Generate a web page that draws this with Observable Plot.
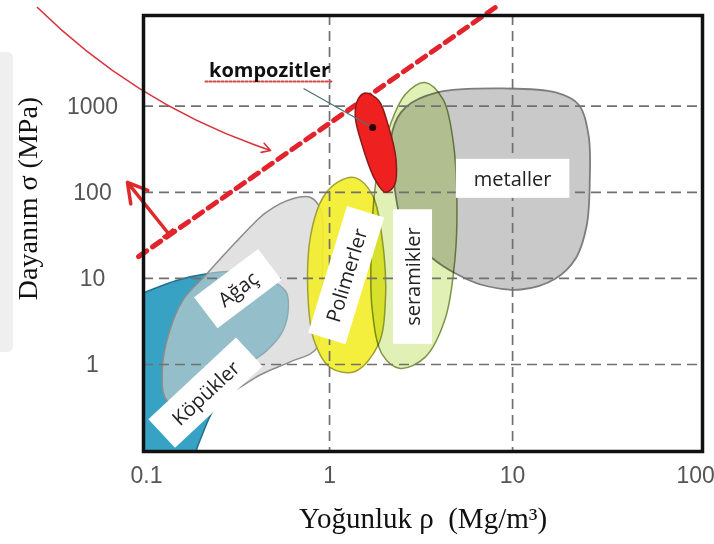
<!DOCTYPE html>
<html>
<head>
<meta charset="utf-8">
<script src="https://cdn.jsdelivr.net/npm/d3@7"></script>
<script src="https://cdn.jsdelivr.net/npm/@observablehq/plot@0.6"></script>
<style>
  body { margin: 0; background: #fff; }
  #chart { position: relative; width: 714px; height: 544px; }
  #chart .edge { position: absolute; left: 0; top: 52px; width: 13px; height: 300px; background: #efefef; border-radius: 0 6px 6px 0; }
  #chart svg { position: absolute; left: 0; top: 0; overflow: visible; }
</style>
</head>
<body>
<div id="chart"><div class="edge"></div></div>
<script>
// ---- axis ticks and grid ----
const xTicks = [0.1, 1, 10, 100];
const yTicks = [1, 10, 100, 1000];
const xGrid = [1, 10];
const yGrid = [1, 10, 100, 1000];

// ---- material envelopes (density ρ in Mg/m3, strength σ in MPa) ----
const foamRho   = [0.0502, 0.0569, 0.0975, 0.146, 0.217, 0.328, 0.466, 0.577, 0.591, 0.542, 0.449, 0.328, 0.272, 0.225, 0.192, 0.165, 0.0829];
const foamSigma = [0.23, 4.35, 6.86, 9.46, 11.4, 12.0, 9.71, 7.05, 3.81, 2.23, 1.42, 0.875, 0.512, 0.263, 0.118, 0.0528, 0.027];

const woodRho   = [0.128, 0.122, 0.132, 0.159, 0.212, 0.308, 0.449, 0.629, 0.788, 0.894, 0.916, 0.894, 0.839, 0.614, 0.422, 0.308, 0.225, 0.165];
const woodSigma = [0.392, 0.875, 2.23, 5.69, 11.1, 26.5, 58, 84, 87, 63, 16.6, 3.33, 1.49, 1.08, 0.765, 0.512, 0.372, 0.30];

const metalRho   = [2.21, 2.60, 3.89, 8.60, 17.2, 22.9, 26.0, 26.4, 25.4, 22.1, 17.2, 11.1, 6.68, 4.88, 3.66, 2.60, 2.24];
const metalSigma = [522, 966, 1443, 1606, 1443, 1047, 457, 137, 41.1, 17.0, 9.97, 7.43, 8.49, 11.4, 17.0, 36.0, 137];

const polymerRho   = [1.38, 1.71, 1.94, 2.02, 1.85, 1.38, 1.01, 0.82, 0.76, 0.79, 0.92, 1.12];
const polymerSigma = [148, 94, 28.3, 5.69, 1.71, 0.83, 0.92, 1.95, 7.43, 32.4, 87, 133];

const ceramicRho   = [3.32, 4.17, 4.72, 4.96, 4.84, 4.27, 3.32, 2.43, 1.94, 1.71, 1.69, 1.80, 2.15, 2.59];
const ceramicSigma = [1884, 1197, 410, 82.5, 16.6, 3.33, 1.21, 0.90, 1.31, 4.35, 21.7, 141, 613, 1368];

const compositeRho   = [1.57, 1.85, 2.09, 2.31, 2.26, 2.02, 1.78, 1.51, 1.38, 1.44];
const compositeSigma = [1420, 1170, 600, 235, 120, 100, 138, 350, 780, 1230];

// ---- guide line σ^(2/3)/ρ = const (end points) ----
const guideRho   = [0.0905, 8.2];
const guideSigma = [17.9, 14400];

// ---- annotations ----
const labelNames = ["Ağaç", "Köpükler", "Polimerler", "seramikler", "metaller"];
const labelRho   = [0.318, 0.212, 1.25, 2.88, 10.0];
const labelSigma = [7.43, 0.46, 10.8, 10.5, 141];
const labelAngle = [-37, -43, -73, -90, 0];

const compositeName  = "kompozitler";
const compositeLabel = {rho: 0.47, sigma: 2600};
const underlineRho   = [0.210, 1.05];
const underlineSigma = [1936, 1936];
const compositeDot   = {rho: 1.72, sigma: 566};
const leaderFrom     = {rho: 0.721, sigma: 1606};

const thinArrowFrom  = {rho: 0.02537, sigma: 14000};
const thinArrowTo    = {rho: 0.476, sigma: 306};
const thickArrowFrom = {rho: 0.1318, sigma: 33.2};
const thickArrowTo   = {rho: 0.0787, sigma: 130};
const tBarRho   = [0.123, 0.1413];
const tBarSigma = [29.5, 37.4];

const xTitle = "Yoğunluk ρ\u00a0\u00a0(Mg/m³)";
const yTitle = "Dayanım σ (MPa)";

// ---- build tables ----
const pts = (r, s) => r.map((v, i) => ({rho: v, sigma: s[i]}));
const foam = pts(foamRho, foamSigma);
const wood = pts(woodRho, woodSigma);
const metal = pts(metalRho, metalSigma);
const polymer = pts(polymerRho, polymerSigma);
const ceramic = pts(ceramicRho, ceramicSigma);
const composite = pts(compositeRho, compositeSigma);
const guide = pts(guideRho, guideSigma);
const underline = pts(underlineRho, underlineSigma);
const labels = labelNames.map((t, i) => ({text: t, rho: labelRho[i], sigma: labelSigma[i], angle: labelAngle[i]}));
const tBar = [{x1: tBarRho[0], y1: tBarSigma[0], x2: tBarRho[1], y2: tBarSigma[1]}];

const shape = (data, opts) => Plot.line(data, {x: "rho", y: "sigma", curve: "catmull-rom-closed", ...opts});

const chart = Plot.plot({
  width: 714,
  height: 544,
  marginLeft: 143,
  marginRight: 12,
  marginTop: 15,
  marginBottom: 93,
  style: {background: "transparent", overflow: "visible"},
  x: {type: "log", domain: [0.0963, 109], axis: null},
  y: {type: "log", domain: [0.0976, 11300], axis: null},
  marks: [
    shape(foam, {fill: "#37a2c4", stroke: "#23708a", strokeWidth: 1.5, clip: true}),
    shape(wood, {fill: "#cfcfcf", fillOpacity: 0.62, stroke: "#8c8c8c", strokeWidth: 1.5, clip: true}),
    shape(metal, {fill: "#c9c9c9", stroke: "#7d7d7d", strokeWidth: 1.8}),
    shape(polymer, {fill: "#f3ee2c", fillOpacity: 0.92, stroke: "#a0a03a", strokeWidth: 1.5}),
    shape(ceramic, {fill: "#dcefa8", fillOpacity: 0.85, stroke: "#7f9448", strokeWidth: 1.5, mixBlendMode: "multiply"}),
    Plot.ruleX(xGrid, {x: d => d, stroke: "#707070", strokeWidth: 1.7, strokeDasharray: "10,6"}),
    Plot.ruleY(yGrid, {y: d => d, stroke: "#707070", strokeWidth: 1.7, strokeDasharray: "10,6"}),
    Plot.line(guide, {x: "rho", y: "sigma", stroke: "#e3232b", strokeWidth: 5, strokeDasharray: "10,7"}),
    shape(composite, {fill: "#ee2020", stroke: "#8a1a1a", strokeWidth: 1.5}),
    Plot.link([0], {x1: () => leaderFrom.rho, y1: () => leaderFrom.sigma, x2: () => compositeDot.rho, y2: () => compositeDot.sigma, stroke: "#4f7378", strokeWidth: 1.3}),
    Plot.dot([compositeDot], {x: "rho", y: "sigma", r: 3.5, fill: "#2a0505"}),
    Plot.arrow([0], {x1: () => thinArrowFrom.rho, y1: () => thinArrowFrom.sigma, x2: () => thinArrowTo.rho, y2: () => thinArrowTo.sigma, bend: -13, stroke: "#d8323a", strokeWidth: 1.6, headLength: 9}),
    Plot.arrow([0], {x1: () => thickArrowFrom.rho, y1: () => thickArrowFrom.sigma, x2: () => thickArrowTo.rho, y2: () => thickArrowTo.sigma, stroke: "#df2a2a", strokeWidth: 3.5, headLength: 14}),
    Plot.link(tBar, {x1: "x1", y1: "y1", x2: "x2", y2: "y2", stroke: "#df2a2a", strokeWidth: 3.5}),
    Plot.text(labels, {x: "rho", y: "sigma", text: "text", rotate: "angle", fontFamily: "Open Sans", fontSize: 20, fill: "#222"}),
    Plot.line(underline, {x: "rho", y: "sigma", stroke: "#d04848", strokeWidth: 2, strokeDasharray: "2,2"}),
    Plot.text([compositeLabel], {x: "rho", y: "sigma", text: () => compositeName, fontFamily: "Open Sans", fontWeight: "bold", fontSize: 20, fill: "#111"}),
    Plot.frame({stroke: "#111", strokeWidth: 3.5}),
    Plot.text(xTicks, {x: d => d, text: d => String(d), frameAnchor: "bottom", lineAnchor: "middle", dy: 24, fontFamily: "Liberation Sans", fontSize: 23, fill: "#555"}),
    Plot.text(yTicks, {y: d => d, text: d => String(d), frameAnchor: "left", dx: -51, textAnchor: "middle", fontFamily: "Liberation Sans", fontSize: 23, fill: "#555"}),
    Plot.text([xTitle], {text: d => d, frameAnchor: "bottom", lineAnchor: "middle", textAnchor: "middle", dy: 67, fontFamily: "Liberation Serif", fontSize: 29, fill: "#111"}),
    Plot.text([yTitle], {text: d => d, frameAnchor: "left", lineAnchor: "middle", textAnchor: "middle", dx: -115, dy: -35, rotate: -90, fontFamily: "Liberation Serif", fontSize: 28, fill: "#111"})
  ]
});

document.getElementById("chart").appendChild(chart);

// white boxes behind the material labels
const padAlong = 18, padAcross = 6;
chart.querySelectorAll("text").forEach(t => {
  if (!labelNames.includes(t.textContent)) return;
  const bb = t.getBBox();
  const r = document.createElementNS("http://www.w3.org/2000/svg", "rect");
  r.setAttribute("x", bb.x - padAlong);
  r.setAttribute("y", bb.y - padAcross);
  r.setAttribute("width", bb.width + 2 * padAlong);
  r.setAttribute("height", bb.height + 2 * padAcross);
  r.setAttribute("fill", "#ffffff");
  r.setAttribute("stroke", "none");
  const tr = t.getAttribute("transform");
  if (tr) r.setAttribute("transform", tr);
  t.parentNode.insertBefore(r, t);
});
</script>
</body>
</html>
